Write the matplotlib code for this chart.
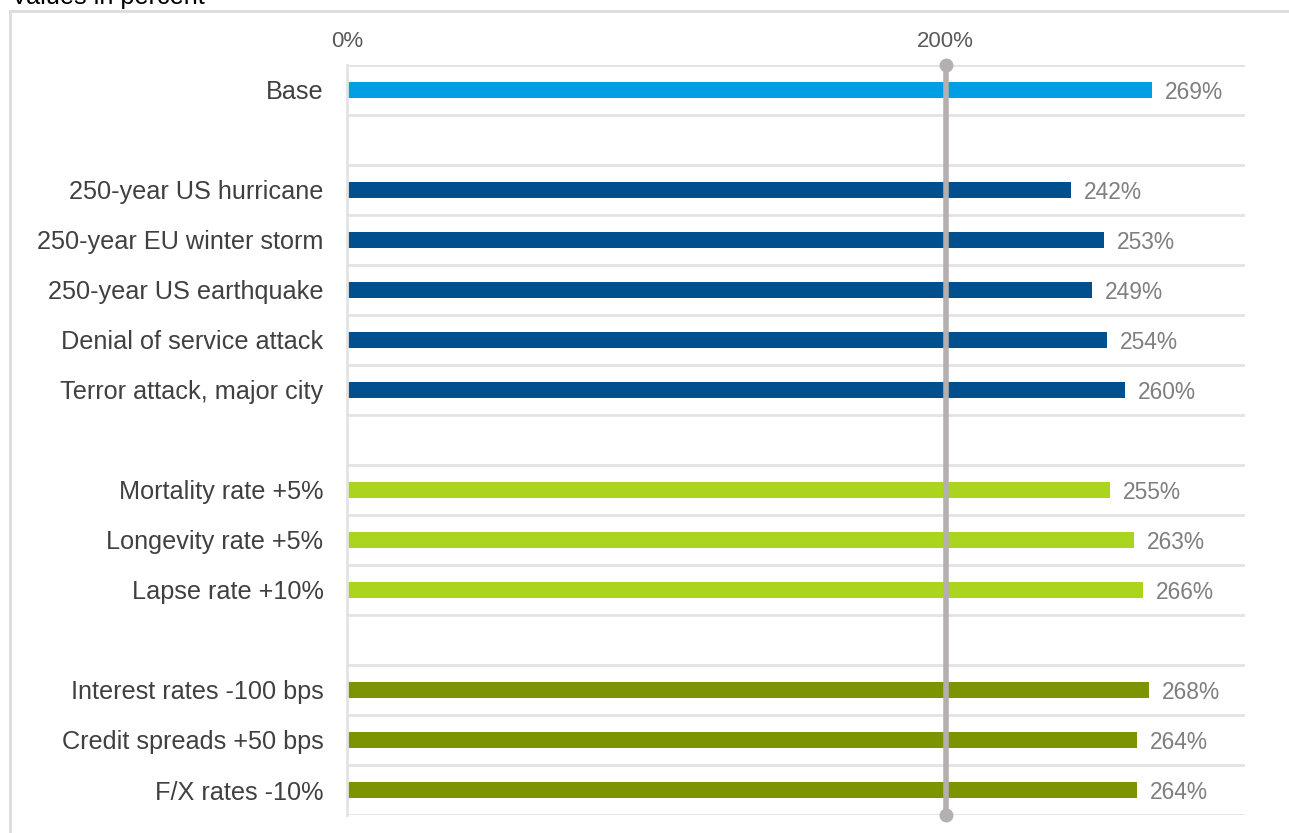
import numpy as np
import matplotlib.pyplot as plt
from matplotlib.patches import Rectangle

plt.rcParams['font.family'] = ['Liberation Sans', 'DejaVu Sans']

# data
categories = ["Base", "",
              "250-year US hurricane", "250-year EU winter storm", "250-year US earthquake",
              "Denial of service attack", "Terror attack, major city", "",
              "Mortality rate +5%", "Longevity rate +5%", "Lapse rate +10%", "",
              "Interest rates -100 bps", "Credit spreads +50 bps", "F/X rates -10%"]
values = [269, None, 242, 253, 249, 254, 260, None, 255, 263, 266, None, 268, 264, 264]
groups = ["base", None, "nat", "nat", "nat", "nat", "nat", None,
          "life", "life", "life", None, "mkt", "mkt", "mkt"]
group_colors = {"base": "#009FE3", "nat": "#00508F", "life": "#AAD41E", "mkt": "#7C9400"}
xticks = [0, 200]
xticklabels = ["0%", "200%"]
threshold = 200

W, H = 1289, 833
fig = plt.figure(figsize=(W / 100, H / 100), dpi=100)
ax = fig.add_axes([347 / W, (H - 815) / H, (1245 - 347) / W, (815 - 65) / H])

n = len(categories)
ypos = np.arange(n)
for i, (v, g) in enumerate(zip(values, groups)):
    if v is None:
        continue
    ax.barh(i, v, height=0.32, color=group_colors[g], zorder=2)
    ax.text(v + 4.3, i, f"{v}%", va='center_baseline', ha='left', fontsize=16.4, color='#7F7F7F')

# row separators
for b in np.arange(-0.5, n, 1.0):
    ax.axhline(b, color='#E3E3E3', lw=2, zorder=1)

# threshold line
ax.plot([threshold, threshold], [-0.5, n - 0.5], color='#B5B0B0', lw=4,
        marker='o', markersize=9, zorder=4, clip_on=False, solid_capstyle='butt')

ax.set_xlim(0, 300)
ax.set_ylim(n - 0.5, -0.5)
ax.set_yticks(ypos)
ax.set_yticklabels(categories, fontsize=18.2, color='#404040', va='center_baseline')
ax.set_xticks(xticks)
ax.set_xticklabels(xticklabels, fontsize=16, color='#595959')
ax.xaxis.tick_top()
ax.tick_params(axis='both', length=0)
ax.tick_params(axis='y', pad=17)
ax.tick_params(axis='x', pad=9)
for s in ['top', 'right', 'bottom']:
    ax.spines[s].set_visible(False)
ax.spines['left'].set_color('#E3E3E3')
ax.spines['left'].set_linewidth(2)

# outer frame and cut-off title
fig.patches.append(Rectangle((10 / W, -0.05), 1.2, (H - 11) / H + 0.05, transform=fig.transFigure,
                             fill=False, edgecolor='#DCDCDC', lw=2))
fig.text(11 / W, (H - 4) / H, "Values in percent", fontsize=18.2, color='black',
         ha='left', va='baseline')

fig.savefig("out.png", dpi=100)
